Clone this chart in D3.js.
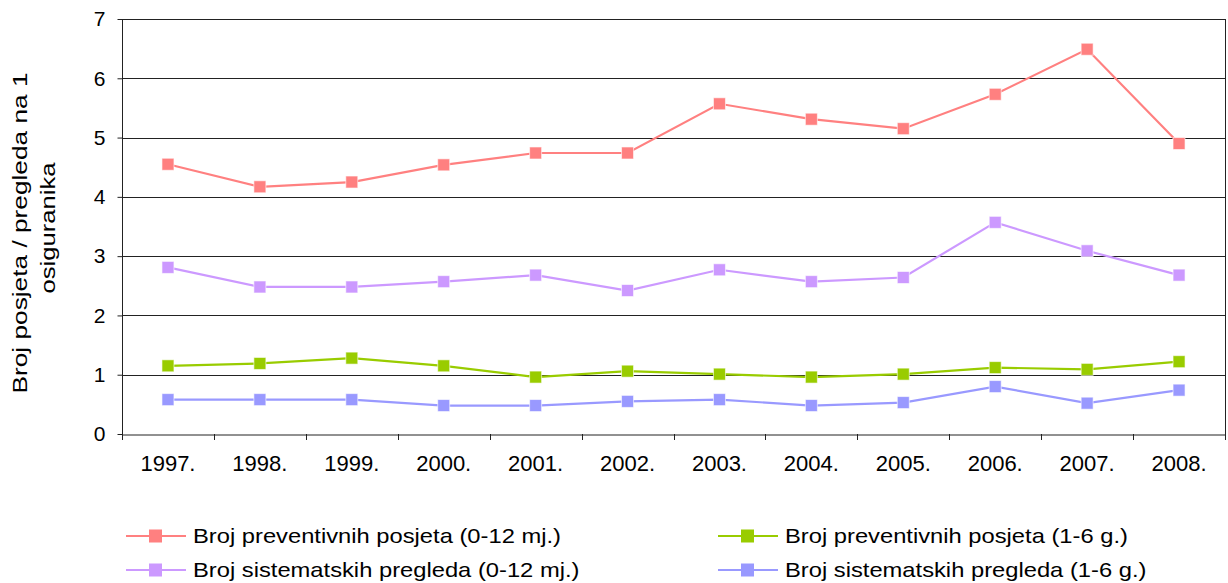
<!DOCTYPE html>
<html><head><meta charset="utf-8">
<script src="https://cdn.jsdelivr.net/npm/d3@7"></script>
<style>body{margin:0;background:#fff;} svg{display:block;font-family:"Liberation Sans",Arial,sans-serif;}</style>
</head><body>
<svg id="c" width="1228" height="583"></svg>
<script>
const years = ["1997.","1998.","1999.","2000.","2001.","2002.","2003.","2004.","2005.","2006.","2007.","2008."];
const prevInfant = [4.55,4.17,4.25,4.54,4.74,4.74,5.57,5.31,5.15,5.73,6.49,4.90];
const sistInfant = [2.81,2.48,2.48,2.57,2.68,2.42,2.77,2.57,2.64,3.57,3.09,2.68];
const prevChild  = [1.15,1.19,1.28,1.15,0.96,1.06,1.01,0.96,1.01,1.12,1.09,1.22];
const sistChild  = [0.58,0.58,0.58,0.48,0.48,0.55,0.58,0.48,0.53,0.80,0.52,0.74];
const seriesNames = ["Broj preventivnih posjeta (0-12 mj.)","Broj sistematskih pregleda (0-12 mj.)","Broj preventivnih posjeta (1-6 g.)","Broj sistematskih pregleda (1-6 g.)"];
const seriesColors = ["#FF8080","#CC99FF","#99CC00","#9999FF"];
const yTicks = [0,1,2,3,4,5,6,7];
const yTitle = ["Broj posjeta / pregleda na 1","osiguranika"];

const series = [prevInfant, sistInfant, prevChild, sistChild].map((v,i)=>({name:seriesNames[i], color:seriesColors[i], values:v}));

const svg = d3.select("#c");
const L=122, R=1225, T=19, B=434;
const x = d3.scaleBand().domain(years).range([L,R]);
const y = d3.scaleLinear().domain([0,7]).range([B,T]);
const stretch = (sel, f) => sel.each(function(){ const w=this.getComputedTextLength(); d3.select(this).attr("textLength", w*f).attr("lengthAdjust","spacingAndGlyphs"); });

// gridlines
svg.append("g").selectAll("line").data(yTicks.filter(d=>d>0)).join("line")
  .attr("x1",L).attr("x2",R).attr("y1",d=>Math.round(y(d))+0.5).attr("y2",d=>Math.round(y(d))+0.5)
  .attr("stroke","#222").attr("stroke-width",1);
// right border
svg.append("line").attr("x1",R+0.5).attr("x2",R+0.5).attr("y1",T).attr("y2",B).attr("stroke","#222");

// y axis
const ya = svg.append("g").attr("transform",`translate(${L+0.5},0)`)
  .call(d3.axisLeft(y).tickValues(yTicks).tickSize(5).tickPadding(12).tickFormat(d3.format("d")));
ya.select(".domain").attr("stroke","#222").attr("d",`M0,${T}V${B}`);
ya.selectAll(".tick line").attr("stroke","#222");
ya.selectAll(".tick text").attr("font-size",21).attr("fill","#000").attr("font-family","Liberation Sans, Arial, sans-serif");

// x axis
const xa = svg.append("g").attr("transform",`translate(0,${Math.round(B)+0.5})`)
  .call(d3.axisBottom(x).tickSize(0).tickPadding(21));
xa.select(".domain").attr("stroke","#222");
xa.selectAll(".tick text").attr("font-size",22).attr("fill","#000").attr("font-family","Liberation Sans, Arial, sans-serif");
// category boundary ticks
const bounds = years.map(d=>x(d)).concat([R]);
svg.append("g").selectAll("line").data(bounds).join("line")
  .attr("x1",d=>Math.round(d)+0.5).attr("x2",d=>Math.round(d)+0.5)
  .attr("y1",B).attr("y2",B+6).attr("stroke","#222");

// y title
svg.append("text").attr("transform","translate(27,233) rotate(-90)")
  .attr("text-anchor","middle").attr("font-size",21).attr("fill","#000").text(yTitle[0])
  .call(stretch,1.25);
svg.append("text").attr("transform","translate(55,228) rotate(-90)")
  .attr("text-anchor","middle").attr("font-size",21).attr("fill","#000").text(yTitle[1])
  .call(stretch,1.22);

// lines
const cx = d=>x(d)+x.bandwidth()/2;
const line = d3.line().x((v,i)=>cx(years[i])).y(v=>y(v));
const g = svg.append("g");
series.forEach(s=>{
  g.append("path").attr("d",line(s.values)).attr("fill","none").attr("stroke",s.color).attr("stroke-width",2.2);
});
series.forEach(s=>{
  g.append("g").selectAll("rect").data(s.values).join("rect")
    .attr("x",(v,i)=>cx(years[i])-6).attr("y",v=>y(v)-6).attr("width",12).attr("height",12)
    .attr("fill",s.color).attr("stroke","#fff").attr("stroke-opacity",0.6).attr("stroke-width",1);
});

// legend
const legPos = [[126,536],[126,570],[718,536],[718,570]];
series.forEach((s,i)=>{
  const [lx,ly] = legPos[i];
  const lg = svg.append("g").attr("transform",`translate(${lx},${ly})`);
  lg.append("line").attr("x1",0).attr("x2",60).attr("y1",0).attr("y2",0).attr("stroke",s.color).attr("stroke-width",2.2);
  lg.append("rect").attr("x",23).attr("y",-6.5).attr("width",13).attr("height",13).attr("fill",s.color);
  lg.append("text").attr("x",67).attr("y",6.5).attr("font-size",21).attr("fill","#000")
    .text(s.name).call(stretch,1.13);
});
</script>
</body></html>
